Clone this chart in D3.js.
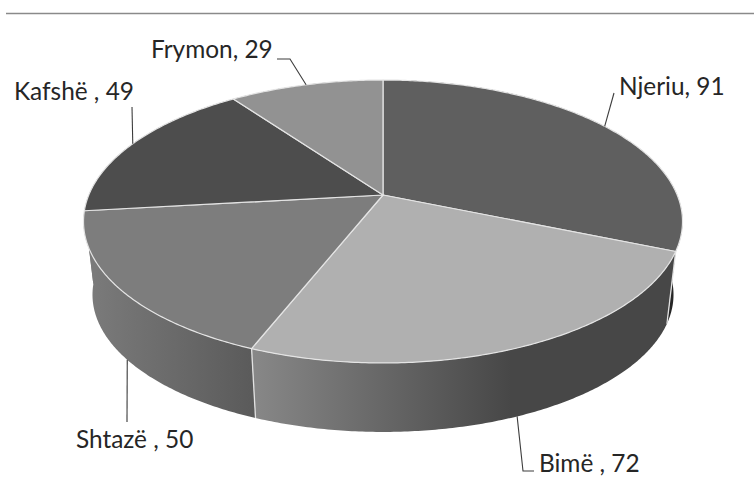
<!DOCTYPE html>
<html lang="sq">
<head>
<meta charset="utf-8">
<title>Frymon, Kafshë, Njeriu, Bimë, Shtazë</title>
<script src="https://cdn.jsdelivr.net/npm/d3@7/dist/d3.min.js"></script>
<style>
  html, body { margin: 0; padding: 0; background: #fff; }
  svg { display: block; }
  text { font-family: Lato, "Open Sans", sans-serif; font-size: 24.4px; fill: #262626; }
</style>
</head>
<body>
<svg id="chart" width="754" height="480"></svg>
<script>
// Pie data, clockwise from twelve o'clock
const categories = ["Njeriu", "Bimë ", "Shtazë ", "Kafshë ", "Frymon"];
const values = [91, 72, 50, 49, 29];
const topShades = ["#5f5f5f", "#b0b0b0", "#7d7d7d", "#4d4d4d", "#929292"];
const wallStops = [
  ["#262626", "#262626"],
  ["#878787", "#474747"],
  ["#7a7a7a", "#5a5a5a"],
  ["#7a7a7a", "#7a7a7a"],
  ["#7a7a7a", "#7a7a7a"]
];

// Tilted-disc projection: unit circle to screen through a perspective divide
const apex = { x: 383, y: 195 };
const tilt = 0.1873, scaleX = 294.2, scaleY = 136.5;
const depth = 74, floorScale = 0.97;

function project(angle, level) {
  const ux = Math.sin(angle), uy = -Math.cos(angle);
  const w = 1 - tilt * uy;
  const s = level === "floor" ? floorScale : 1;
  const dy = level === "floor" ? depth : 0;
  return [apex.x + s * scaleX * ux / w, apex.y + dy + s * scaleY * uy / w];
}

function arcPoints(a0, a1, level) {
  const n = Math.max(2, Math.ceil((a1 - a0) / 0.01));
  return d3.range(n + 1).map(i => project(a0 + (a1 - a0) * i / n, level));
}

const svg = d3.select("#chart");
const line = d3.line();
const slices = d3.pie().sort(null).startAngle(0).endAngle(2 * Math.PI)(values);

// Rule along the top of the frame
svg.append("line")
  .attr("x1", 6).attr("x2", 754).attr("y1", 13.5).attr("y2", 13.5)
  .attr("stroke", "#8a8a8a").attr("stroke-width", 1.4);

// Horizontal shading for the rim, one gradient per slice
const defs = svg.append("defs");
slices.forEach((d, i) => {
  const ext = d3.extent(arcPoints(d.startAngle, d.endAngle, "floor"), p => p[0]);
  const g = defs.append("linearGradient")
    .attr("id", "wall" + i)
    .attr("gradientUnits", "userSpaceOnUse")
    .attr("x1", ext[0]).attr("x2", i === 1 ? ext[0] + 255 : ext[1])
    .attr("y1", 0).attr("y2", 0);
  g.append("stop").attr("offset", 0).attr("stop-color", wallStops[i][0]);
  g.append("stop").attr("offset", 1).attr("stop-color", wallStops[i][1]);
});

// Rim first, then the upper faces on top of it
svg.append("g").selectAll("path").data(slices).join("path")
  .attr("d", d => {
    const top = arcPoints(d.startAngle, d.endAngle, "top");
    const floor = arcPoints(d.startAngle, d.endAngle, "floor").reverse();
    return line(top.concat(floor)) + "Z";
  })
  .attr("fill", (d, i) => `url(#wall${i})`);

// Visible joints between rim segments
svg.append("g").selectAll("line").data(slices.slice(0, 2)).join("line")
  .each(function (d) {
    const a = project(d.endAngle, "top"), b = project(d.endAngle, "floor");
    d3.select(this).attr("x1", a[0]).attr("y1", a[1]).attr("x2", b[0]).attr("y2", b[1]);
  })
  .attr("stroke", "#e2e2e2").attr("stroke-width", 1.3);

svg.append("g").selectAll("path").data(slices).join("path")
  .attr("d", d => line([[apex.x, apex.y]].concat(arcPoints(d.startAngle, d.endAngle, "top"))) + "Z")
  .attr("fill", (d, i) => topShades[i])
  .attr("stroke", "#e4e4e4").attr("stroke-width", 1.2).attr("stroke-linejoin", "round");

// Data labels and their leader lines
const labelPlacement = [
  { x: 619, y: 95,  anchor: "top",   via: [[614, 93]] },
  { x: 539, y: 472, anchor: "floor", via: [[523, 471], [534, 471]] },
  { x: 76,  y: 448, anchor: "floor", via: [[127, 422]] },
  { x: 14,  y: 100, anchor: "top",   via: [[132, 107]] },
  { x: 151, y: 58,  anchor: "top",   via: [[290, 59], [277, 59]] }
];

const labels = svg.append("g");
slices.forEach((d, i) => {
  const place = labelPlacement[i];
  const mid = (d.startAngle + d.endAngle) / 2;
  labels.append("path")
    .attr("d", line([project(mid, place.anchor)].concat(place.via)))
    .attr("fill", "none").attr("stroke", "#3c3c3c").attr("stroke-width", 1.1);
  labels.append("text")
    .attr("x", place.x).attr("y", place.y)
    .text(`${categories[i]}, ${values[i]}`);
});
</script>
</body>
</html>
